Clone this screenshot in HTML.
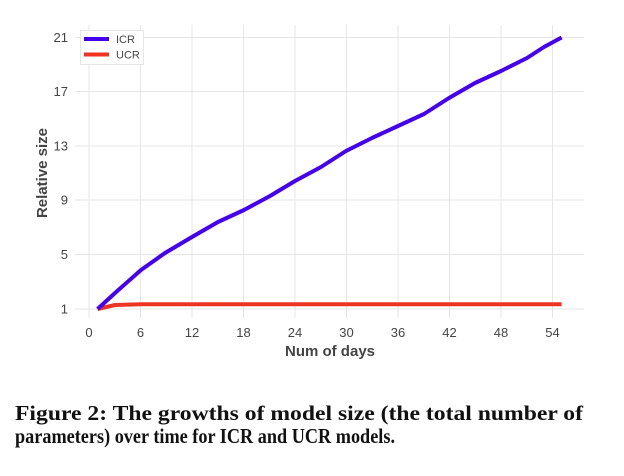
<!DOCTYPE html>
<html><head><style>
html,body{margin:0;padding:0;background:#fff;}
svg{display:block;}
</style></head><body>
<svg width="624" height="476" viewBox="0 0 624 476" xmlns="http://www.w3.org/2000/svg">
<g stroke="#e6e6e6" stroke-width="1">
<line x1="89" y1="25" x2="89" y2="318"/>
<line x1="140.5" y1="25" x2="140.5" y2="318"/>
<line x1="192" y1="25" x2="192" y2="318"/>
<line x1="243.5" y1="25" x2="243.5" y2="318"/>
<line x1="295" y1="25" x2="295" y2="318"/>
<line x1="346.5" y1="25" x2="346.5" y2="318"/>
<line x1="398" y1="25" x2="398" y2="318"/>
<line x1="449.5" y1="25" x2="449.5" y2="318"/>
<line x1="501" y1="25" x2="501" y2="318"/>
<line x1="552.5" y1="25" x2="552.5" y2="318"/>
<line x1="75" y1="37.5" x2="584" y2="37.5"/>
<line x1="75" y1="91.5" x2="584" y2="91.5"/>
<line x1="75" y1="146" x2="584" y2="146"/>
<line x1="75" y1="200" x2="584" y2="200"/>
<line x1="75" y1="254.5" x2="584" y2="254.5"/>
<line x1="75" y1="309" x2="584" y2="309"/>
</g>
<g font-family="Liberation Sans, sans-serif" font-size="13" fill="#444" text-anchor="end">
<text x="68" y="42">21</text><text x="68" y="96">17</text><text x="68" y="150.5">13</text>
<text x="68" y="204.5">9</text><text x="68" y="259">5</text><text x="68" y="313.5">1</text>
</g>
<g font-family="Liberation Sans, sans-serif" font-size="13" fill="#444" text-anchor="middle">
<text x="89" y="337">0</text><text x="140.5" y="337">6</text><text x="192" y="337">12</text>
<text x="243.5" y="337">18</text><text x="295" y="337">24</text><text x="346.5" y="337">30</text>
<text x="398" y="337">36</text><text x="449.5" y="337">42</text><text x="501" y="337">48</text>
<text x="552.5" y="337">54</text>
</g>
<text x="330" y="356" font-family="Liberation Sans, sans-serif" font-size="15" font-weight="bold" fill="#444" text-anchor="middle">Num of days</text>
<text transform="translate(47,173) rotate(-90)" font-family="Liberation Sans, sans-serif" font-size="15" font-weight="bold" fill="#444" text-anchor="middle">Relative size</text>
<polyline fill="none" stroke="#ee3322" stroke-width="4" stroke-linejoin="round" points="97.6,309 115,305 141,304.3 561.6,304.3"/>
<polyline fill="none" stroke="#4400ee" stroke-width="4" stroke-linejoin="round" points="97.6,309 115,293 141,270 165,253 192,237 218,222 244,210 270,196 295,181 321,167 346,151 372,138 398,126 424,114 449,98 475,83 501,71 527,58 544,47 561.6,37.5"/>
<rect x="80.5" y="30.5" width="63" height="34" fill="#fff" stroke="#e6e6e6"/>
<line x1="84" y1="39" x2="109" y2="39" stroke="#4400ee" stroke-width="4"/>
<line x1="84" y1="54.5" x2="109" y2="54.5" stroke="#ee3322" stroke-width="4"/>
<g font-family="Liberation Sans, sans-serif" font-size="11" fill="#444">
<text x="116" y="43">ICR</text><text x="116" y="58.5">UCR</text>
</g>
<g font-family="Liberation Serif, serif" font-size="21" font-weight="bold" fill="#111">
<text x="15" y="420" textLength="568" lengthAdjust="spacingAndGlyphs">Figure 2: The growths of model size (the total number of</text>
<text x="15" y="443" textLength="380" lengthAdjust="spacingAndGlyphs">parameters) over time for ICR and UCR models.</text>
</g>
</svg>
</body></html>
